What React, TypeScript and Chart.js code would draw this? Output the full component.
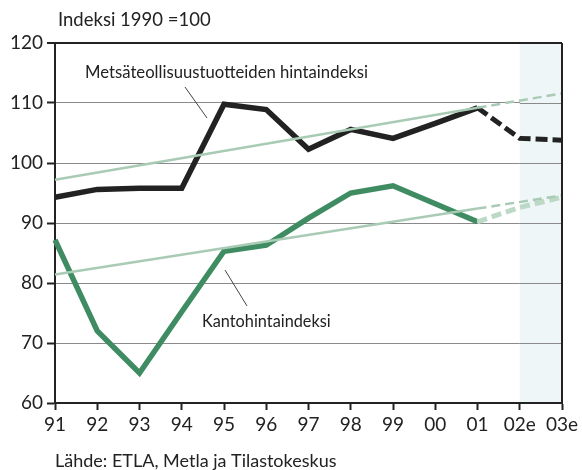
import React, { useEffect, useRef } from "react";
import { Chart, registerables } from "chart.js";

Chart.register(...registerables);

const labels = ["91", "92", "93", "94", "95", "96", "97", "98", "99", "00", "01", "02e", "03e"];
const metsa = [94.3, 95.6, 95.8, 95.8, 109.8, 108.9, 102.3, 105.6, 104.1, 106.6, 109.2, null, null];
const metsaEst = [null, null, null, null, null, null, null, null, null, null, 109.2, 104.1, 103.8];
const kanto = [87.2, 72.0, 65.0, 75.2, 85.3, 86.3, 90.8, 95.0, 96.2, 93.2, 90.2, null, null];
const kantoEst = [null, null, null, null, null, null, null, null, null, null, 90.2, 92.6, 94.3];
const metsaTrend = [97.2, null, null, null, null, null, null, null, null, null, 109.2, null, null];
const metsaTrendEst = [null, null, null, null, null, null, null, null, null, null, 109.2, null, 111.6];
const kantoTrend = [81.4, null, null, null, null, null, null, null, null, null, 92.4, null, null];
const kantoTrendEst = [null, null, null, null, null, null, null, null, null, null, 92.4, null, 94.6];
const yTicks = [60, 70, 80, 90, 100, 110, 120];

const FONT = "Lato, 'Open Sans', sans-serif";
const BLACK = "#222222";
const GREEN = "#3f8c62";
const LIGHT = "#a9cbb6";
const LIGHTER = "#bcd9c6";

export default function App() {
  const ref = useRef<HTMLCanvasElement | null>(null);
  useEffect(() => {
    const canvas = ref.current!;
    const decor = {
      id: "decor",
      beforeDatasetsDraw(chart: any) {
        const { ctx, chartArea, scales } = chart;
        const x0 = scales.x.getPixelForValue(11);
        ctx.save();
        ctx.fillStyle = "#eef6f8";
        ctx.fillRect(x0, chartArea.top + 1, chartArea.right - x0, chartArea.bottom - chartArea.top - 2);
        ctx.strokeStyle = "#8a8a8a";
        ctx.lineWidth = 1;
        for (const v of [70, 80, 90, 100, 110]) {
          const y = Math.round(scales.y.getPixelForValue(v)) + 0.5;
          ctx.beginPath();
          ctx.moveTo(x0, y);
          ctx.lineTo(chartArea.right, y);
          ctx.stroke();
        }
        ctx.restore();
      },
      afterDraw(chart: any) {
        const { ctx, chartArea } = chart;
        ctx.save();
        ctx.strokeStyle = BLACK;
        ctx.lineWidth = 2;
        ctx.beginPath();
        ctx.moveTo(chartArea.right, chartArea.top);
        ctx.lineTo(chartArea.right, chartArea.bottom);
        ctx.stroke();
        ctx.fillStyle = BLACK;
        ctx.textBaseline = "middle";
        ctx.textAlign = "left";
        ctx.font = `18.5px ${FONT}`;
        ctx.fillText("Indeksi 1990 =100", 58, 20);
        ctx.font = `16.7px ${FONT}`;
        ctx.fillText("Metsäteollisuustuotteiden hintaindeksi", 85, 73);
        ctx.font = `16.3px ${FONT}`;
        ctx.fillText("Kantohintaindeksi", 202, 322);
        ctx.font = `18px ${FONT}`;
        ctx.fillText("Lähde: ETLA, Metla ja Tilastokeskus", 55, 461);
        ctx.lineWidth = 1;
        ctx.strokeStyle = "#444";
        ctx.beginPath();
        ctx.moveTo(185, 87);
        ctx.lineTo(207, 118);
        ctx.moveTo(225, 270);
        ctx.lineTo(247, 306);
        ctx.stroke();
        ctx.restore();
      },
    };
    const chart = new Chart(canvas, {
      type: "line",
      data: {
        labels,
        datasets: [
          { data: metsaTrend, borderColor: LIGHT, borderWidth: 2.5, spanGaps: true, pointRadius: 0 },
          { data: metsaTrendEst, borderColor: LIGHT, borderWidth: 2.5, borderDash: [9, 5], spanGaps: true, pointRadius: 0 },
          { data: kantoTrend, borderColor: LIGHT, borderWidth: 2.5, spanGaps: true, pointRadius: 0 },
          { data: kantoTrendEst, borderColor: LIGHT, borderWidth: 2.5, borderDash: [9, 5], spanGaps: true, pointRadius: 0 },
          { data: kantoEst, borderColor: LIGHTER, borderWidth: 5, borderDash: [10, 5], pointRadius: 0 },
          { data: metsaEst, borderColor: BLACK, borderWidth: 5, borderDash: [12, 5], pointRadius: 0, borderJoinStyle: "miter" },
          { data: kanto, borderColor: GREEN, borderWidth: 5.5, pointRadius: 0, borderJoinStyle: "miter" },
          { data: metsa, borderColor: BLACK, borderWidth: 5.5, pointRadius: 0, borderJoinStyle: "miter" },
        ] as any,
      },
      options: {
        responsive: false,
        animation: false,
        devicePixelRatio: 1,
        layout: { padding: { left: 0, right: 20, top: 43, bottom: 0 } },
        plugins: { legend: { display: false }, tooltip: { enabled: false } },
        scales: {
          x: {
            offset: false,
            grid: { drawOnChartArea: false, tickLength: 7, tickColor: BLACK, tickWidth: 2 },
            border: { color: BLACK, width: 2 },
            ticks: { color: BLACK, font: { family: FONT, size: 19 }, padding: 3, maxRotation: 0, autoSkip: false },
            afterFit: (s: any) => { s.height = 67; },
          },
          y: {
            min: 60,
            max: 120,
            afterBuildTicks: (s: any) => { s.ticks = yTicks.map((v) => ({ value: v })); },
            grid: {
              color: (c: any) => (c.tick && c.tick.value === 120 ? BLACK : "#8a8a8a"),
              lineWidth: (c: any) => (c.tick && c.tick.value === 120 ? 2 : 1),
              tickColor: BLACK,
              tickLength: 8,
              tickWidth: 2,
            },
            border: { color: BLACK, width: 2 },
            ticks: { color: BLACK, font: { family: FONT, size: 19 }, padding: 4 },
            afterFit: (s: any) => { s.width = 55; },
          },
        },
      },
      plugins: [decor],
    });
    return () => chart.destroy();
  }, []);
  return (
    <div style={{ position: "absolute", left: 0, top: 0, width: 582, height: 470, background: "#fff" }}>
      <canvas ref={ref} width={582} height={470} />
    </div>
  );
}
